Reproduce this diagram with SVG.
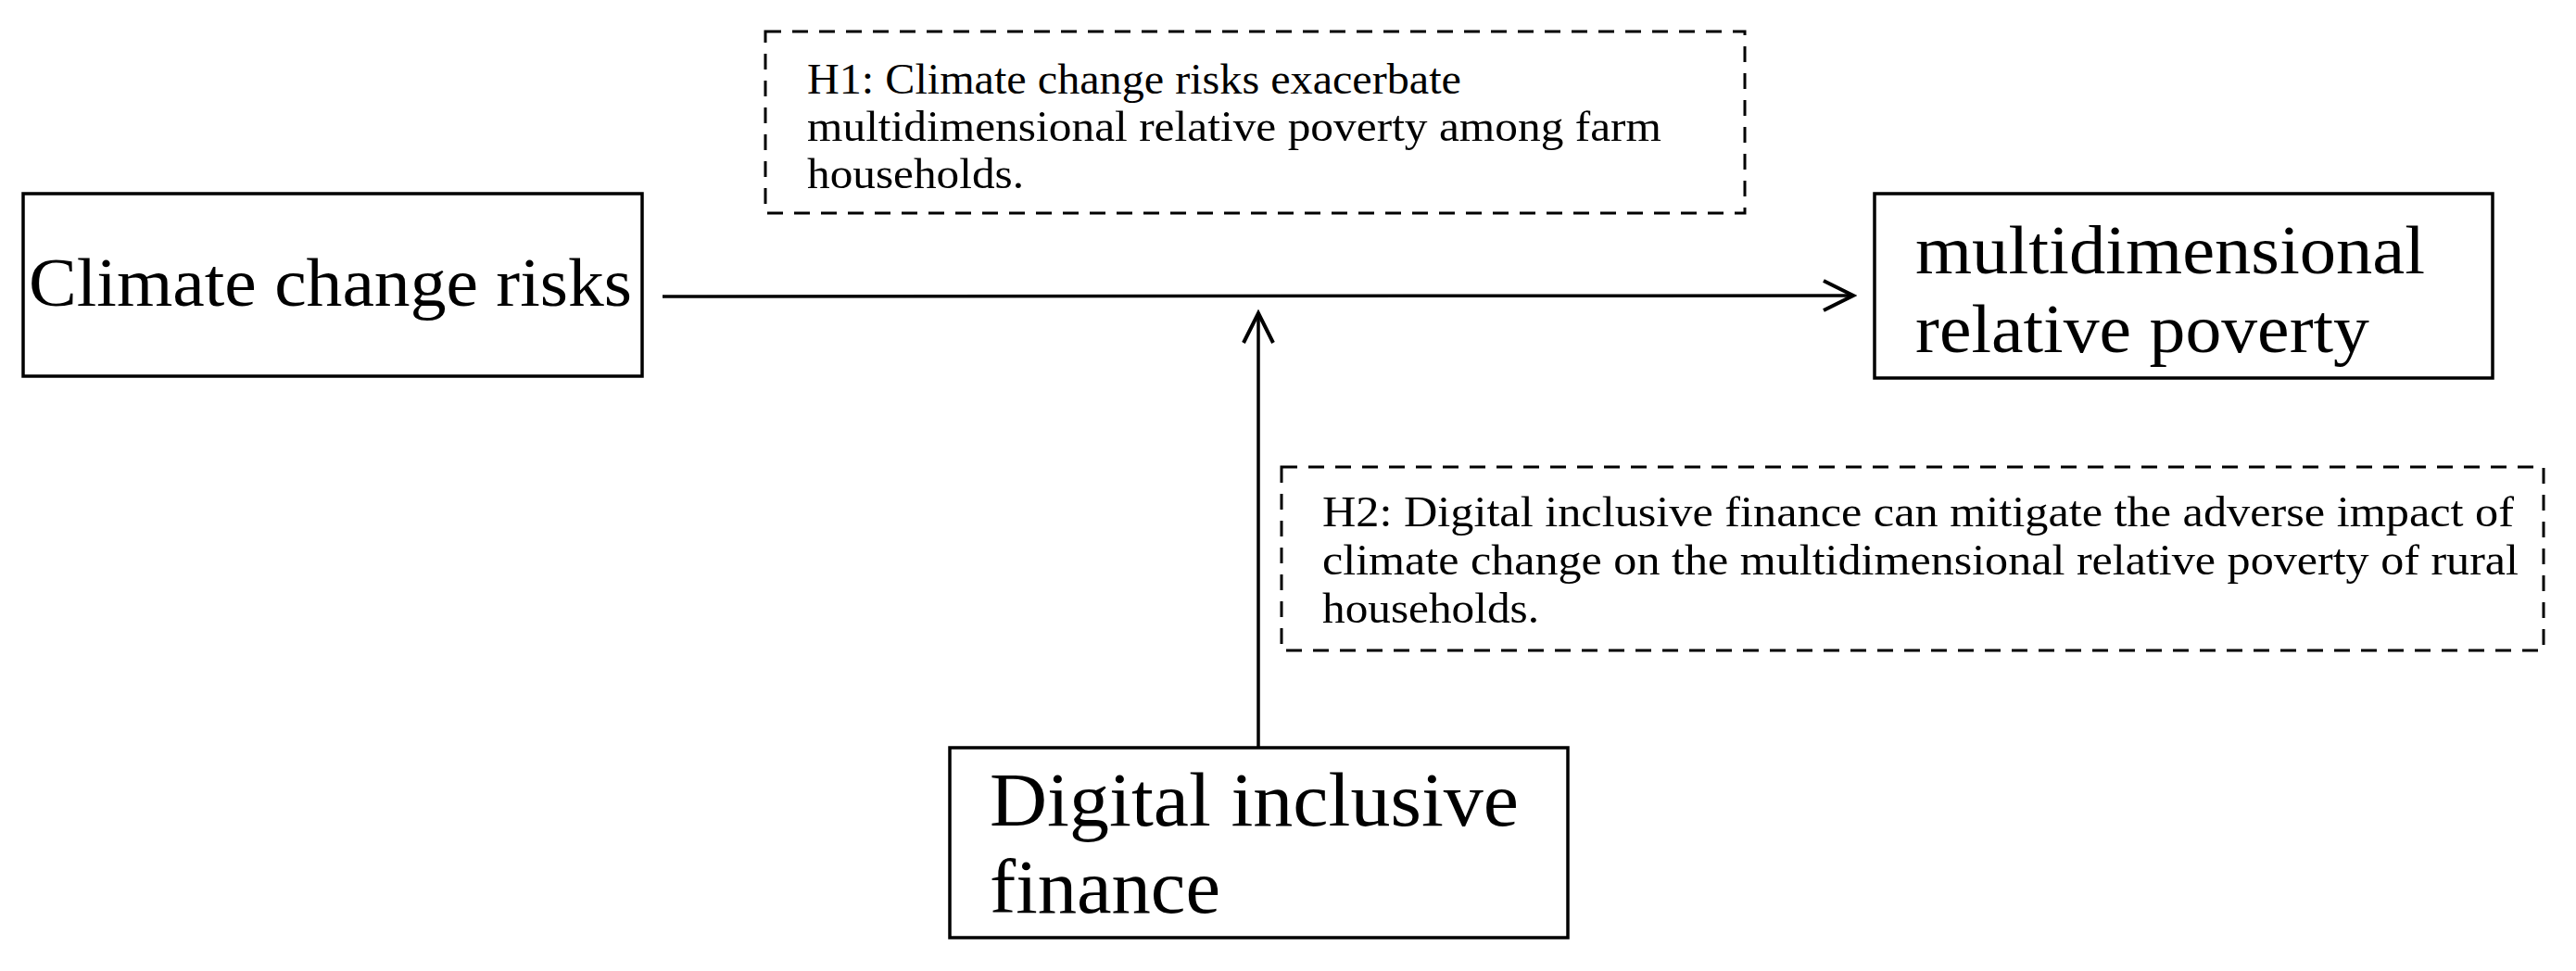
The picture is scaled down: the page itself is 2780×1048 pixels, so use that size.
<svg xmlns="http://www.w3.org/2000/svg" width="2780" height="1048" viewBox="0 0 2780 1048">
<style>
.node{fill:#fff;stroke:#000;stroke-width:3.5}
.hyp{fill:#fff;stroke:#000;stroke-width:3;stroke-dasharray:17 12}
.t{font-family:"Liberation Serif","Times New Roman",serif;fill:#000}
.big{font-size:75px}
.dig{font-size:82px}
.small{font-size:47px}
.conn{stroke:#000;stroke-width:3.5;fill:none}
</style>
<defs>
<marker id="arr" viewBox="0 0 40 40" refX="36" refY="20" markerWidth="40" markerHeight="40" markerUnits="userSpaceOnUse" orient="auto">
<path d="M4,4 L36,20 L4,36" fill="none" stroke="#000" stroke-width="4"/>
</marker>
</defs>
<rect width="2780" height="1048" fill="#fff"/>
<g id="connectors">
<line class="conn" x1="715" y1="320" x2="2000" y2="319" marker-end="url(#arr)"/>
<line class="conn" x1="1358" y1="807" x2="1358" y2="338" marker-end="url(#arr)"/>
</g>
<g id="climate">
<rect class="node" x="25" y="209" width="668" height="197"/>
<text class="t big" x="31" y="330" textLength="651" lengthAdjust="spacingAndGlyphs">Climate change risks</text>
</g>
<g id="poverty">
<rect class="node" x="2023" y="209" width="667" height="199"/>
<text class="t big" x="2067" y="295" textLength="550" lengthAdjust="spacingAndGlyphs">multidimensional</text>
<text class="t big" x="2067" y="380" textLength="490" lengthAdjust="spacingAndGlyphs">relative poverty</text>
</g>
<g id="digital">
<rect class="node" x="1025" y="807" width="667" height="205"/>
<text class="t dig" x="1068" y="891" textLength="571" lengthAdjust="spacingAndGlyphs">Digital inclusive</text>
<text class="t dig" x="1068" y="985" textLength="249" lengthAdjust="spacingAndGlyphs">finance</text>
</g>
<g id="h1">
<rect class="hyp" x="826" y="34" width="1057" height="196"/>
<text class="t small" x="871" y="101" textLength="706" lengthAdjust="spacingAndGlyphs">H1: Climate change risks exacerbate</text>
<text class="t small" x="871" y="152" textLength="922" lengthAdjust="spacingAndGlyphs">multidimensional relative poverty among farm</text>
<text class="t small" x="871" y="203" textLength="234" lengthAdjust="spacingAndGlyphs">households.</text>
</g>
<g id="h2">
<rect class="hyp" x="1383" y="504" width="1362" height="198"/>
<text class="t small" x="1427" y="568" textLength="1286" lengthAdjust="spacingAndGlyphs">H2: Digital inclusive finance can mitigate the adverse impact of</text>
<text class="t small" x="1427" y="620" textLength="1291" lengthAdjust="spacingAndGlyphs">climate change on the multidimensional relative poverty of rural</text>
<text class="t small" x="1427" y="672" textLength="234" lengthAdjust="spacingAndGlyphs">households.</text>
</g>
</svg>
